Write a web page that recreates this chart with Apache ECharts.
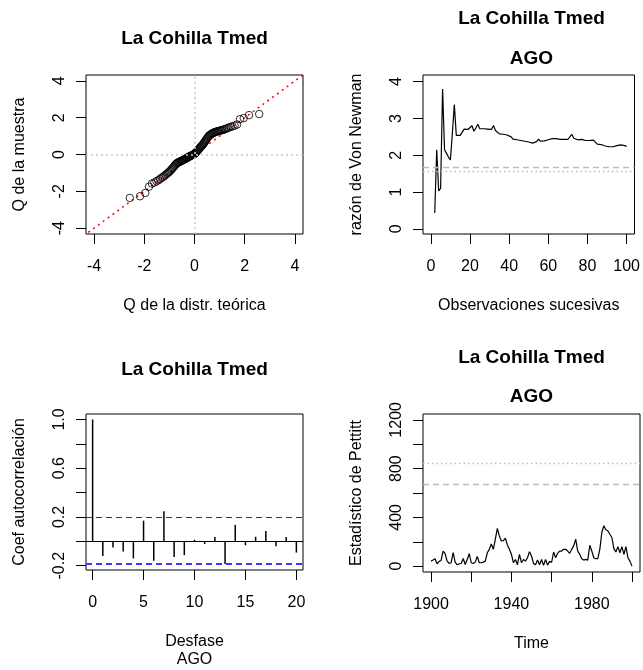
<!DOCTYPE html>
<html>
<head>
<meta charset="utf-8">
<script src="https://cdn.jsdelivr.net/npm/echarts@6/dist/echarts.min.js"></script>
<style>
html,body{margin:0;padding:0;background:#fff;}
#chart{width:643px;height:670px;}
</style>
</head>
<body>
<div id="chart"></div>
<script>
// ---------- DATA ----------
// Q-Q plot: theoretical quantiles and sample quantiles
const qqTheo = [-2.576,-2.170,-1.960,-1.812,-1.695,-1.598,-1.514,-1.440,-1.372,-1.311,
  -1.254,-1.200,-1.150,-1.103,-1.058,-1.015,-0.974,-0.935,-0.896,-0.860,
  -0.824,-0.789,-0.755,-0.722,-0.690,-0.659,-0.628,-0.598,-0.568,-0.539,
  -0.510,-0.482,-0.454,-0.426,-0.399,-0.372,-0.345,-0.319,-0.292,-0.266,
  -0.240,-0.215,-0.189,-0.164,-0.138,-0.113,-0.088,-0.063,-0.038,-0.013,
  0.013,0.038,0.063,0.088,0.113,0.138,0.164,0.189,0.215,0.240,
  0.266,0.292,0.319,0.345,0.372,0.399,0.426,0.454,0.482,0.510,
  0.539,0.568,0.598,0.628,0.659,0.690,0.722,0.755,0.789,0.824,
  0.860,0.896,0.935,0.974,1.015,1.058,1.103,1.150,1.200,1.254,
  1.311,1.372,1.440,1.514,1.598,1.695,1.812,1.960,2.170,2.576];
const qqSample = [-2.36,-2.27,-2.09,-1.75,-1.58,-1.52,-1.45,-1.40,-1.33,-1.27,
  -1.22,-1.16,-1.10,-1.05,-1.00,-0.95,-0.90,-0.84,-0.78,-0.72,
  -0.66,-0.60,-0.55,-0.50,-0.46,-0.44,-0.42,-0.40,-0.38,-0.36,
  -0.34,-0.32,-0.30,-0.28,-0.27,-0.25,-0.22,-0.20,-0.18,-0.16,
  -0.14,-0.12,-0.10,-0.08,-0.06,-0.05,-0.03,-0.02,0.00,0.02,
  0.05,0.08,0.12,0.16,0.20,0.24,0.28,0.32,0.36,0.40,
  0.44,0.48,0.52,0.57,0.62,0.67,0.72,0.78,0.84,0.90,
  0.95,1.00,1.04,1.07,1.10,1.13,1.16,1.18,1.20,1.22,
  1.24,1.25,1.27,1.28,1.30,1.31,1.33,1.35,1.37,1.40,
  1.43,1.47,1.50,1.53,1.57,1.63,1.92,1.98,2.14,2.20];
const qqLineX = [-5, 5];           // reference line y = x
const qqLineY = [-5, 5];
const qqTicks = [-4, -2, 0, 2, 4];

// Von Neumann ratio, observations 2..100
const vnFirstObs = 2;
const vnValues = [0.43,2.15,1.03,1.10,3.80,2.15,2.05,1.95,1.87,2.60,
  3.38,2.54,2.53,2.54,2.53,2.71,2.72,2.70,2.68,2.80,
  2.65,2.74,2.84,2.72,2.74,2.72,2.74,2.71,2.76,2.70,
  2.81,2.67,2.62,2.58,2.56,2.57,2.58,2.55,2.53,2.50,
  2.44,2.45,2.42,2.43,2.40,2.41,2.38,2.37,2.36,2.35,
  2.33,2.36,2.37,2.44,2.38,2.37,2.39,2.40,2.42,2.43,
  2.45,2.45,2.45,2.44,2.43,2.42,2.43,2.42,2.43,2.46,
  2.57,2.46,2.44,2.42,2.46,2.43,2.44,2.40,2.39,2.40,
  2.39,2.41,2.36,2.30,2.26,2.29,2.27,2.25,2.24,2.23,
  2.24,2.23,2.25,2.26,2.27,2.28,2.27,2.26,2.24];
const vnDashed = 1.68;
const vnDotted = 1.56;
const vnXTicks = [0, 20, 40, 60, 80, 100];
const vnYTicks = [0, 1, 2, 3, 4];

// Autocorrelation, lags 0..20
const acfLags = [0,1,2,3,4,5,6,7,8,9,10,11,12,13,14,15,16,17,18,19,20];
const acfValues = [1.0,-0.121,-0.051,-0.084,-0.140,0.170,-0.159,0.248,-0.129,-0.113,
  0.013,-0.022,0.035,-0.186,0.135,-0.032,0.038,0.084,-0.040,0.035,-0.092];
const acfUpper = 0.2;
const acfLower = -0.185;
const acfXTicks = [0, 5, 10, 15, 20];
const acfYTicks = [-0.2, 0, 0.2, 0.4, 0.6, 0.8, 1.0];
const acfYLabels = [-0.2, 0.2, 0.6, 1.0];

// Pettitt statistic, years 1900..2000
const ptFirstYear = 1900;
const ptValues = [41,50,61,19,39,47,124,102,41,22,
  28,110,33,11,19,22,63,14,55,102,
  28,22,33,80,28,28,33,41,110,138,
  182,138,221,309,248,207,210,229,174,138,
  97,28,55,11,97,28,55,41,69,119,
  83,22,11,50,11,55,6,55,8,39,
  30,116,69,105,124,124,138,138,124,105,
  138,166,221,124,97,61,50,55,50,171,
  124,69,61,61,138,276,331,298,290,262,
  235,144,116,160,110,160,97,160,69,41,0];
const ptDashed = 675;
const ptDotted = 847;
const ptXTicks = [1900, 1920, 1940, 1960, 1980, 2000];
const ptXLabels = [1900, 1940, 1980];
const ptYTicks = [0, 200, 400, 600, 800, 1000, 1200];
const ptYLabels = [0, 400, 800, 1200];

// ---------- CHART ----------
const FONT = '"Liberation Sans", Arial, Helvetica, sans-serif';
const AX_FS = 16;
const grids = [
  {left: 86, top: 75, width: 217, height: 159},
  {left: 423, top: 75, width: 217, height: 159},
  {left: 86, top: 414, width: 217, height: 158},
  {left: 423, top: 414, width: 217, height: 158}
];

function xAx(gi, min, max, ticks, labels, name, fmt) {
  return {
    type: 'value', gridIndex: gi, min: min, max: max, position: 'bottom',
    axisLine: {show: false, onZero: false},
    axisTick: {show: true, length: 10, lineStyle: {color: '#000', width: 1}, customValues: ticks},
    axisLabel: {show: true, customValues: labels, margin: 25, color: '#000', fontSize: AX_FS,
      fontFamily: FONT, formatter: fmt, hideOverlap: false},
    splitLine: {show: false},
    name: name, nameLocation: 'middle', nameGap: 63,
    nameTextStyle: {color: '#000', fontSize: AX_FS, fontFamily: FONT, lineHeight: 18}
  };
}
function yAx(gi, min, max, ticks, labels, name, fmt) {
  return {
    type: 'value', gridIndex: gi, min: min, max: max, position: 'left',
    axisLine: {show: false, onZero: false},
    axisTick: {show: true, length: 10, lineStyle: {color: '#000', width: 1}, customValues: ticks},
    axisLabel: {show: true, customValues: labels, margin: 18, rotate: 90, color: '#000', fontSize: AX_FS,
      fontFamily: FONT, formatter: fmt, hideOverlap: false},
    splitLine: {show: false},
    name: name, nameLocation: 'middle', nameGap: 58, nameRotate: 90,
    nameTextStyle: {color: '#000', fontSize: AX_FS, fontFamily: FONT}
  };
}
function hLine(v, color, dash, width) {
  return {yAxis: v, lineStyle: {color: color, type: dash, width: width}};
}
function vLine(v, color, dash, width) {
  return {xAxis: v, lineStyle: {color: color, type: dash, width: width}};
}
const mlBase = {silent: true, symbol: ['none', 'none'], label: {show: false}, animation: false};

const intFmt = v => String(Math.round(v));
const oneDec = v => v.toFixed(1);

const vnData = vnValues.map((v, i) => [vnFirstObs + i, v]);
const ptData = ptValues.map((v, i) => [ptFirstYear + i, v]);
const acfData = acfLags.map((l, i) => [l, acfValues[i]]);
const qqData = qqTheo.map((x, i) => [x, qqSample[i]]);
const qqLine = qqLineX.map((x, i) => [x, qqLineY[i]]);

function titleText(x, y, txt) {
  return {type: 'text', x: x, y: y, silent: true,
    style: {text: txt, fill: '#000', font: 'bold 19px ' + FONT,
      align: 'center', verticalAlign: 'middle', textAlign: 'center', textVerticalAlign: 'middle'}};
}

const option = {
  animation: false,
  backgroundColor: '#fff',
  grid: grids.map(g => Object.assign({show: true, borderColor: '#000', borderWidth: 1,
    backgroundColor: 'transparent', containLabel: false}, g)),
  xAxis: [
    xAx(0, -4.32, 4.32, qqTicks, qqTicks, 'Q de la distr. teórica', intFmt),
    xAx(1, -4, 104, vnXTicks, vnXTicks, 'Observaciones sucesivas', intFmt),
    xAx(2, -0.65, 20.65, acfXTicks, acfXTicks, 'Desfase\nAGO', intFmt),
    xAx(3, 1896, 2004, ptXTicks, ptXLabels, 'Time', intFmt)
  ],
  yAxis: [
    yAx(0, -4.32, 4.32, qqTicks, qqTicks, 'Q de la muestra', intFmt),
    yAx(1, -0.14, 4.18, vnYTicks, vnYTicks, 'razón de Von Newman', intFmt),
    yAx(2, -0.235, 1.045, acfYTicks, acfYLabels, 'Coef autocorrelación', oneDec),
    yAx(3, -48, 1248, ptYTicks, ptYLabels, 'Estadístico de Pettitt', intFmt)
  ],
  graphic: [
    titleText(194.5, 39, 'La Cohilla Tmed'),
    titleText(531.5, 19, 'La Cohilla Tmed'),
    titleText(531.5, 59, 'AGO'),
    titleText(194.5, 370, 'La Cohilla Tmed'),
    titleText(531.5, 358, 'La Cohilla Tmed'),
    titleText(531.5, 397, 'AGO')
  ],
  series: [
    // QQ reference cross (dotted grey) and qqline (dotted red)
    {type: 'line', xAxisIndex: 0, yAxisIndex: 0, data: [], z: 1,
      markLine: Object.assign({}, mlBase, {data: [
        vLine(0, '#c8c8c8', [2, 3], 1.5),
        hLine(0, '#c8c8c8', [2, 3], 1.5)
      ]})},
    {type: 'line', xAxisIndex: 0, yAxisIndex: 0, data: qqLine, showSymbol: false, symbol: 'none',
      clip: true, z: 2, lineStyle: {color: '#ff0000', width: 1.5, type: [2, 4]}},
    {type: 'scatter', xAxisIndex: 0, yAxisIndex: 0, data: qqData, symbol: 'circle', symbolSize: 7.5, z: 3,
      itemStyle: {color: 'rgba(0,0,0,0)', borderColor: '#000', borderWidth: 1}},
    // Von Neumann
    {type: 'line', xAxisIndex: 1, yAxisIndex: 1, data: vnData, showSymbol: false, symbol: 'none', z: 3,
      lineStyle: {color: '#000', width: 1.2},
      markLine: Object.assign({}, mlBase, {data: [
        hLine(vnDashed, '#bdbdbd', [6, 4], 1.3),
        hLine(vnDotted, '#bdbdbd', [1.5, 3], 1.3)
      ]})},
    // ACF
    {type: 'bar', xAxisIndex: 2, yAxisIndex: 2, data: acfData, barWidth: 1.5, z: 3,
      itemStyle: {color: '#000'},
      markLine: Object.assign({}, mlBase, {data: [
        hLine(0, '#000', 'solid', 1),
        hLine(acfUpper, '#2a2ab8', [6, 4], 1.2),
        hLine(acfLower, '#3a3aff', [6, 4], 2)
      ]})},
    // Pettitt
    {type: 'line', xAxisIndex: 3, yAxisIndex: 3, data: ptData, showSymbol: false, symbol: 'none', z: 3,
      lineStyle: {color: '#000', width: 1.2},
      markLine: Object.assign({}, mlBase, {data: [
        hLine(ptDotted, '#bdbdbd', [1.5, 3], 1.3),
        hLine(ptDashed, '#bdbdbd', [6, 4], 1.3)
      ]})}
  ]
};

const chart = echarts.init(document.getElementById('chart'), null, {renderer: 'canvas'});
chart.setOption(option);
</script>
</body>
</html>
